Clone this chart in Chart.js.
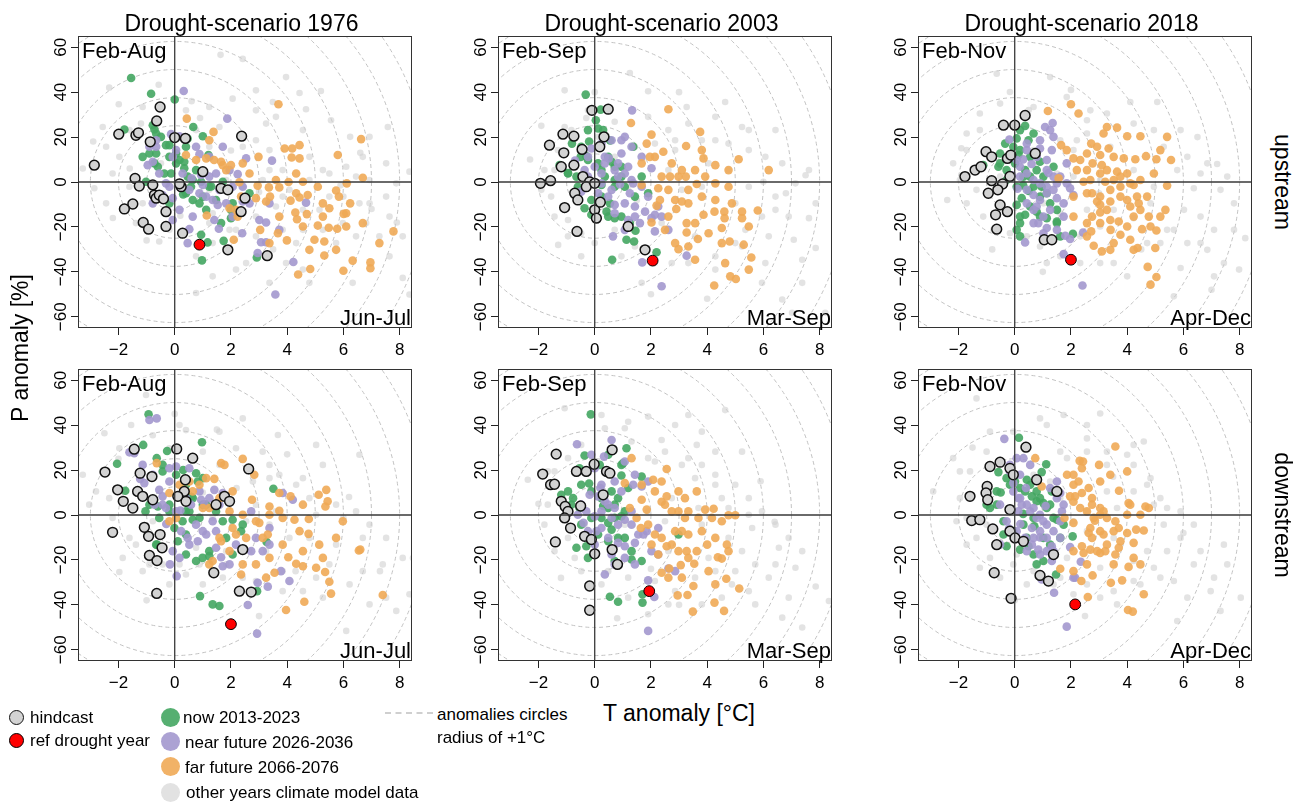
<!DOCTYPE html>
<html>
<head>
<meta charset="utf-8">
<script src="https://cdn.jsdelivr.net/npm/chart.js@4.4.1/dist/chart.umd.min.js"></script>
<style>
  html,body{margin:0;padding:0;background:#fff;}
  #root{position:relative;width:1298px;height:803px;overflow:hidden;background:#fff;font-family:"Liberation Sans",Arial,Helvetica,sans-serif;color:#000;}
  .lbl{position:absolute;white-space:nowrap;line-height:1;}
  .dot{position:absolute;border-radius:50%;box-sizing:border-box;}
</style>
</head>
<body>
<div id="root"></div>
<script>
// ---------------- DATA ----------------
const xTicks = [-2, 0, 2, 4, 6, 8];
const yTicks = [-60, -40, -20, 0, 20, 40, 60];
const scenarioTitles = ['Drought-scenario 1976', 'Drought-scenario 2003', 'Drought-scenario 2018'];
const periodTop = ['Feb-Aug', 'Feb-Sep', 'Feb-Nov'];
const periodBottom = ['Jun-Jul', 'Mar-Sep', 'Apr-Dec'];
const rowLabels = ['upstream', 'downstream'];
const legendLabels = ['hindcast', 'ref drought year', 'now 2013-2023', 'near future 2026-2036', 'far future 2066-2076', 'other years climate model data'];
const circleRadii = [1, 2, 3, 4, 5, 6, 7, 8, 9, 10, 11, 12];

// ---- upstream 1976 ----
const up1976_hind = [[-2.86,7.5],[-0.52,33.4],[-0.64,27.2],[-1.99,21.3],[-1.38,20.8],[-1.29,21.9],[-0.87,17.9],[-1.41,1.6],[-1.26,-1.8],[-0.78,-1.3],[-0.72,-5.8],[-0.66,-7.2],[-1.49,-9.8],[-1.79,-12.0],[-0.31,-13.2],[-1.12,-18.0],[-0.93,-21.0],[-0.31,-19.8],[0.28,-22.8],[0.0,19.8],[0.38,19.4],[0.23,-2.1],[1.0,4.6],[1.65,-2.8],[1.89,-3.5],[2.38,20.4],[2.36,-13.2],[2.5,-7.2],[1.89,-30.2],[3.29,-32.8],[-0.55,-5.8],[-0.4,-7.5],[0.17,-0.8]];
const up1976_ref = [[0.88,-27.9]];
const up1976_now = [[-1.55,46.3],[-0.84,39.3],[0,36.7],[-1.79,23.4],[-0.78,25.3],[-0.72,23.4],[-0.66,21.6],[0.66,24.5],[1.0,20.4],[-1.14,11.2],[-0.6,6.8],[-0.19,11.2],[0.05,8.3],[0.17,9.8],[0.4,15.7],[0.46,2.4],[0.64,0.9],[0.58,-2.1],[1.0,-6.5],[0.88,-9.5],[1.47,-8.0],[2.06,-9.5],[2.0,-16.1],[2.66,-5.0],[0.94,-23.5],[1.17,-26.9],[1.74,-26.2],[0.97,-34.9],[2.92,-33.6],[-0.49,20.1],[-0.31,16.4],[-0.9,12.7],[-0.13,3.8],[0.34,6.1],[1.2,12.0],[0.3,-5.5],[1.3,-2.0],[-0.19,16.4],[0.05,12.7],[0.34,9.0],[0.76,5.3],[0.94,0.1],[1.23,-2.1],[0.4,-5.0],[0.64,-8.0],[-0.19,-9.5],[-0.72,8.3],[-0.37,3.8],[-1.02,0.1],[1.12,-12.4],[1.65,-18.3],[-0.66,12.7],[0.46,19.4],[1.71,0.1],[2.0,-12.4]];
const up1976_near = [[0.32,40.5],[1.87,28.2],[-0.13,21.3],[0.17,20.4],[-0.9,15.7],[-0.66,15.7],[-0.78,9.0],[-0.96,7.5],[0.05,14.2],[-0.07,11.2],[0.88,12.4],[1.71,15.7],[2.54,10.5],[3.46,9.5],[2.24,3.5],[1.23,2.4],[1.47,3.8],[1.0,-1.3],[0.88,-5.0],[-0.19,-2.1],[-0.43,-5.8],[-0.07,-7.2],[1.35,-8.0],[1.53,-10.2],[1.83,-9.5],[2.42,-8.7],[1.41,-16.9],[1.57,-20.8],[-0.07,-16.9],[0.52,-21.0],[0.46,-27.2],[2.4,-22.8],[3.01,-16.9],[3.25,-18.0],[3.07,-26.8],[3.25,-26.8],[2.95,-31.6],[3.72,-21.3],[4.22,-35.6],[3.58,-50.1],[4.67,-9.2],[0.6,1.6],[0.94,3.1],[-0.55,3.8],[0.28,3.8],[0.52,-3.5],[1.12,-6.5],[1.59,-3.5],[2.06,-2.1],[1.95,5.3],[1.23,11.2],[0.76,15.7],[-0.66,18.6],[0.17,-12.4],[0.64,-15.4],[2.06,-15.4],[2.66,-9.5],[3.37,-9.5],[-0.31,-0.6],[-0.78,-9.5],[2.42,-2.1]];
const up1976_far = [[3.69,34.6],[0.43,28.2],[1.38,22.3],[1.23,18.6],[0.4,12.0],[0.76,9.8],[1.12,10.5],[1.71,7.5],[2.0,7.5],[2.42,8.3],[2.98,11.2],[3.91,14.9],[4.18,14.9],[4.44,16.4],[4.16,10.9],[4.44,10.5],[5.8,12.0],[6.63,19.1],[6.69,1.9],[6.12,-0.6],[4.32,3.8],[4.05,0],[2.3,-0.1],[2.95,-1.6],[3.35,-2.4],[3.72,-2.4],[3.39,-6.5],[3.25,-8.7],[2.36,-6.5],[4.32,-5.0],[4.44,-6.9],[4.12,-8.3],[4.73,-5.8],[5.74,-3.8],[5.84,-6.5],[5.5,-11.7],[4.29,-13.6],[4.7,-14.3],[4.35,-16.6],[6.01,-14.2],[6.1,-13.9],[5.09,-19.4],[5.48,-20.4],[5.78,-20.8],[6.1,-19.8],[7.78,-22.0],[3.04,-21.3],[3.67,-22.8],[3.99,-26.0],[4.97,-25.7],[5.32,-26.5],[5.32,-32.7],[6.33,-35.0],[6.96,-35.8],[6.96,-38.4],[6.0,-39.5],[4.82,-38.7],[4.39,-41.2],[2.1,-25.7],[1.14,-14.9],[1.95,-11.7],[2.18,-12.4],[1.4,9.8],[1.65,9.0],[2.66,3.8],[2.89,-7.2],[3.6,0.9],[4.56,0.1],[5.09,-2.1],[5.27,-9.5],[3.72,-15.4],[4.56,-19.8],[5.27,-15.4],[6.24,-9.5],[6.69,-18.3],[7.28,-27.2],[3.37,-27.2],[1.83,5.3],[2.24,-15.4],[5.74,-30.2],[4.79,-30.2]];
const up1976_other = [[1.63,56.6],[2.42,54.8],[-2.33,42],[-0.57,43.3],[2.06,37.1],[4.44,39.6],[4.67,32.4],[3.49,35.6],[-1.99,34.6],[-2.56,24.5],[-1.2,26],[3.25,26],[5.56,27.5],[7.58,24.5],[8.35,4.6],[-3.27,6],[-2.86,-2.8],[-2.44,15.7],[-1.97,11.2],[1.23,15.7],[2.89,18.6],[3.37,5.3],[3.84,5.3],[4.79,0.9],[5.27,5.3],[6.1,6.8],[6.93,0.9],[7.52,-6.5],[6.57,-9.5],[5.15,-12.4],[3.6,-10.9],[2.89,-15.4],[2.18,-21.3],[1.35,-27.2],[0.76,-33.1],[1.35,-42],[0.76,-49.4],[2.54,-36.1],[3.96,-36.1],[4.79,-44.9],[6.33,-44.9],[8.11,-42.7],[8.35,-50.1],[7.28,-24.2],[7.64,-33.1],[-0.55,-26.5],[-1.38,-18.3],[-2.44,-9.5],[-0.49,8.3],[0.52,-2.1],[1.23,-3.5],[1.83,0.9],[2.42,-2.1],[3.13,0.9],[4.08,-3.5],[4.56,-21.3],[4.32,-27.2],[5.74,-27.2],[5.98,-18.3],[6.81,-18.3],[5.5,-6.5],[1.35,-13.9],[3.96,46.7],[2.89,31.9],[5.2,40.5],[0.9,28.5],[-1.6,6.0],[0.2,-15.0],[2.0,14.0],[3.0,-4.5],[5.9,-1.5],[7.0,-12.0],[3.5,-30.0],[-2.2,-16.0],[-1.0,-26.0],[0.6,36.0],[-2.9,18.0],[6.6,13.0],[7.9,-18.0],[0.76,23.1],[1.59,24.5],[2.42,15.7],[3.37,14.2],[4.79,11.2],[5.5,3.8],[6.45,2.4],[6.69,11.2],[7.52,8.3],[3.84,-6.5],[4.56,-12.4],[6.0,-6.5],[6.93,-9.5],[7.64,-15.4],[8.11,-24.2],[6.45,-24.2],[5.27,-21.3],[3.84,-21.3],[2.89,-24.2],[1.95,-21.3],[1.23,-18.3],[-0.19,-21.3],[-1.14,-9.5],[-1.61,-2.1],[-2.21,3.8],[-1.61,23.1],[-1.14,33.4],[0.4,31.9],[1.23,33.4],[2.89,40.8],[3.6,29.0],[4.56,23.1],[6.24,20.1],[6.93,20.1],[7.88,-0.6],[4.56,-39.0],[3.37,-44.9],[2.18,-39.0]];

// ---- upstream 2003 ----
const up2003_hind = [[-0.1,31.9],[0.48,32.4],[0.33,20.1],[-1.13,21.3],[-0.74,20.4],[-1.61,16.4],[-1.1,13.0],[-1.19,6.8],[-0.74,7.5],[-1.93,-0.6],[-1.57,0.6],[-0.42,2.4],[-0.18,0.1],[-0.3,-2.1],[0,-0.6],[-0.71,-5.0],[-0.6,-8.0],[-1.07,-11.4],[0,-12.4],[0.06,-16.1],[-0.63,-22.0],[1.19,-19.8],[1.79,-30.2],[0.18,15.7],[-0.45,14.5],[0.2,-9.0]];
const up2003_ref = [[2.06,-35.0]];
const up2003_now = [[-0.32,38.9],[0.21,32.2],[0.04,27.5],[0.12,23.8],[-0.81,17.1],[-0.5,11.2],[-0.3,11.5],[-1.25,7.5],[-0.65,2.4],[0.24,5.3],[0.48,11.2],[0.71,6.8],[0.95,2.4],[1.37,15.7],[1.67,2.4],[1.9,-5.0],[-0.36,-11.7],[-0.12,-14.6],[0.42,-13.2],[0.54,-9.5],[0.71,-16.1],[0.95,-15.4],[1.25,-18.3],[1.45,-21.7],[1.13,-25.7],[1.4,-26.5],[0.62,-34.6],[2.2,-31.3],[0.24,-1.3],[0.71,-2.1],[-0.95,4.0],[0.55,18.5],[-0.2,18.0],[-0.48,15.7],[-0.24,9.8],[0.12,8.3],[0.6,9.0],[0.36,2.4],[0.71,0.9],[1.07,-2.1],[0.24,-6.5],[-0.12,-8.0],[-0.6,-2.1],[-0.95,3.8],[0.48,-15.4],[1.43,-6.5],[-0.24,23.1],[0.3,23.1],[0.95,6.8]];
const up2003_near = [[1.33,31.9],[1.07,20.1],[1.31,15.7],[0.95,12.7],[-0.12,14.9],[0.24,17.1],[-0.36,5.3],[0,6.8],[0.36,8.3],[0.71,5.3],[0.83,2.4],[1.07,3.8],[1.37,-0.6],[1.25,-5.0],[1.67,11.2],[0.12,-5.0],[0.48,-6.5],[0.71,-10.2],[-0.48,-4.3],[1.07,-9.5],[1.43,-10.9],[1.79,-13.2],[2.14,-14.6],[1.61,-18.3],[2.02,-16.1],[0.65,-24.2],[1.19,-16.9],[2.14,-22.0],[1.69,-35.8],[2.38,-46.4],[3.27,-32.8],[2.02,6.1],[0.24,3.8],[0.5,10.5],[-0.7,9.5],[0.9,-1.0],[-0.24,2.4],[0.24,-0.6],[0.6,-3.5],[0.83,8.3],[1.19,6.8],[1.31,0.9],[1.67,-2.1],[1.9,-6.5],[2.26,-10.9],[0.71,-13.9],[1.43,-15.4],[1.07,-21.3],[0.36,11.2],[-0.24,11.2],[0.6,18.6],[0.95,18.6],[2.38,-15.4],[2.62,-21.3]];
const up2003_far = [[2.62,32.4],[1.29,26.3],[2.02,21.1],[1.85,17.1],[2.44,13.5],[1.96,11.2],[1.67,8.3],[3.25,16.0],[3.75,22.3],[3.81,14.2],[3.87,10.5],[4.29,7.5],[4.76,5.3],[5.12,10.1],[6.19,5.3],[2.38,2.4],[2.68,2.4],[2.98,2.4],[3.24,2.4],[3.63,-0.9],[1.67,-1.3],[2.26,-2.8],[3.33,-3.5],[2.62,-3.5],[2.86,-8.0],[3.1,-8.7],[3.33,-9.5],[2.32,-8.0],[2.62,-15.4],[2.02,-18.0],[3.27,-18.3],[3.57,-18.3],[3.87,-14.6],[4.26,-13.2],[4.61,-13.2],[4.62,-16.1],[4.52,-20.5],[5.24,-16.1],[5.8,-12.7],[3.27,-22.5],[3.67,-25.4],[4.8,-26.5],[5.3,-27.9],[2.98,-29.9],[3.57,-34.6],[5.57,-33.6],[4.82,-42.0],[5.02,-43.2],[4.25,-46.1],[2.9,-12.0],[2.2,-10.5],[2.14,11.2],[2.74,8.3],[3.1,5.3],[3.57,5.3],[3.93,2.4],[4.29,-0.6],[4.76,-2.1],[3.81,-6.5],[4.29,-8.0],[4.88,-9.5],[5.24,-13.2],[5.48,-19.8],[4.05,-22.8],[4.52,-27.2],[2.5,-21.3],[2.86,-27.2],[3.33,-28.7],[4.64,-36.1],[5.48,-39.0]];
const up2003_other = [[-1.07,40.8],[1.25,48.5],[1.9,40.4],[4.64,35.6],[5.24,24.5],[3.33,26],[0.71,26.8],[-1.31,14.2],[-1.79,5.3],[4.29,18.6],[6.07,11.2],[6.0,0.1],[5.48,-2.1],[5.0,-9.5],[5.95,-15.4],[6.43,-12.4],[7.62,-16.1],[7.86,-29.4],[7.08,-25.7],[6.07,-36.1],[5.95,-44.9],[6.67,-52.3],[7.02,-58.2],[4.29,-39],[3.57,-24.2],[2.74,-36.1],[1.67,-44.9],[-0.48,-33.1],[-0.48,-22.8],[-0.95,-16.9],[-1.55,-6.5],[0.71,-21.3],[2.38,-18.3],[3.1,-3.5],[3.81,-2.1],[4.29,-0.6],[2.86,18.6],[2.62,5.3],[2.14,11.2],[4.76,5.3],[4.05,8.3],[3.27,33.4],[7.38,-34.6],[8.2,-58.2],[5.0,-27.2],[1.43,-28.7],[0.12,20.1],[-0.83,23.1],[0.48,-12.4],[1.19,-2.1],[5.36,-21.3],[-1.9,25.0],[-2.3,10.0],[0.0,40.0],[3.0,40.0],[6.8,-5.0],[7.5,3.0],[-1.3,-28.0],[2.0,-50.0],[4.0,-52.0],[-0.3,28.5],[1.5,-8.0],[0.71,11.2],[1.43,15.7],[2.14,17.1],[2.86,14.2],[3.81,18.6],[4.76,17.1],[5.48,14.2],[6.67,8.3],[7.14,-0.6],[7.62,5.3],[6.43,-6.5],[6.9,-15.4],[6.19,-24.2],[5.24,-28.7],[4.29,-33.1],[3.33,-36.1],[2.14,-36.1],[0.95,-33.1],[0,-27.2],[-0.95,-24.2],[-1.43,-15.4],[-1.9,-3.5],[-1.43,5.3],[-1.07,24.5],[-0.24,31.9],[1.9,29.0],[2.62,23.1],[4.29,29.0],[5.48,23.1],[6.43,23.1],[7.86,-9.5],[7.38,-44.9]];

// ---- upstream 2018 ----
const up2018_hind = [[0.37,29.6],[0,25.3],[-0.4,25.3],[-1.02,13.5],[-0.82,11.2],[-1.41,5.3],[-1.2,6.8],[-1.77,2.4],[-0.82,0.6],[-0.26,10.5],[-0.14,12.0],[-0.43,-0.9],[-0.94,-5.0],[-0.52,-10.2],[-0.26,-13.2],[-0.68,-14.6],[-0.64,-21.0],[0.73,12.7],[1.05,-25.7],[1.32,-25.7],[-0.17,2.5],[-0.6,-3.5]];
const up2018_ref = [[2.0,-34.6]];
const up2018_now = [[0.37,25.0],[0.19,23.1],[0.67,21.6],[0.49,18.6],[0.07,19.4],[-0.34,17.1],[-0.52,12.7],[-0.58,6.8],[-1.12,7.5],[0.13,12.0],[0.01,8.3],[0.37,5.3],[0.55,2.4],[0.78,5.3],[0.96,-2.1],[1.14,-5.0],[0.25,-7.2],[0.07,-10.2],[0.37,-14.6],[0.07,-21.3],[0.19,-24.2],[0.78,-13.2],[1.14,-16.1],[1.5,-17.6],[1.32,-25.7],[2.07,-23.1],[1.38,6.8],[-0.29,0.9],[0.3,-1.5],[0.9,9.0],[0.5,-4.0],[-0.05,15.7],[0.19,14.2],[0.55,11.2],[0.31,2.4],[0.07,-2.1],[0.67,-2.1],[0.9,-6.5],[1.26,-9.5],[0.55,-10.9],[0.19,-15.4],[0.9,-15.4],[1.5,-12.4],[-0.52,8.3],[-0.29,5.3],[1.02,2.4],[1.5,-18.3],[1.62,-24.2],[0.19,-18.3]];
const up2018_near = [[1.08,24.5],[1.35,26.3],[-0.19,18.9],[1.38,20.1],[1.32,14.2],[0.43,17.1],[0.9,14.9],[1.14,9.8],[0.19,6.8],[0.43,3.8],[0.67,0.9],[0.9,-0.6],[1.14,-2.1],[1.38,-3.5],[1.62,2.4],[1.97,-2.8],[0.67,-5.8],[0.9,-8.0],[1.5,-7.2],[1.74,-9.5],[0.43,-9.5],[0.67,-12.4],[1.02,-15.4],[0.84,-18.3],[1.14,-20.5],[0.37,-26.9],[1.8,-23.9],[1.97,-25.4],[2.43,-22.5],[1.74,-32.1],[2.41,-46.1],[2.09,-5.8],[0.3,10.0],[0.6,8.0],[1.2,4.0],[0.1,-3.0],[-0.1,3.0],[0.43,14.2],[0.78,11.2],[1.14,5.3],[1.38,2.4],[1.5,-0.6],[1.85,-0.6],[1.14,-5.0],[0.43,-3.5],[0.19,2.4],[0.78,-10.9],[1.26,-12.4],[1.74,-15.4],[0.67,-18.3],[1.02,-22.8],[1.5,-21.3],[0.07,9.8],[0.9,18.6],[1.26,23.1],[1.85,8.3]];
const up2018_far = [[2.0,34.6],[2.27,30.5],[1.18,31.6],[1.65,16.4],[2.09,10.5],[2.33,9.8],[2.57,12.7],[2.72,17.1],[2.93,15.7],[3.16,21.6],[3.64,24.2],[3.04,12.0],[3.34,14.9],[4.0,20.4],[4.47,20.4],[2.77,8.3],[3.1,7.5],[3.52,11.2],[3.88,10.5],[4.29,10.1],[4.67,11.5],[5.04,10.1],[5.56,9.8],[3.64,4.6],[3.76,2.4],[1.56,1.6],[2.45,0.1],[2.69,0.9],[3.22,0.1],[3.52,0.9],[3.76,-2.1],[4.23,-1.3],[5.42,-1.6],[2.09,-6.5],[2.75,-5.0],[2.93,-8.7],[3.04,-10.2],[4.0,-8.0],[4.35,-6.5],[4.41,-9.5],[3.4,-8.7],[4.11,-10.9],[4.47,-12.4],[5.36,-12.4],[2.75,-15.4],[3.4,-16.9],[3.7,-17.6],[4.77,-15.4],[3.04,-13.6],[2.72,-22.0],[3.41,-21.3],[3.76,-23.5],[4.53,-21.0],[4.83,-19.8],[5.04,-21.6],[4.11,-25.7],[4.37,-29.4],[5.0,-29.4],[2.81,-28.4],[3.1,-30.9],[3.4,-30.2],[4.73,-37.8],[5.04,-42.3],[4.83,-45.7],[1.85,14.2],[2.21,5.3],[2.57,5.3],[3.04,3.8],[3.28,5.3],[4.0,3.8],[4.11,-0.6],[4.47,0.9],[4.95,3.8],[3.4,-3.5],[2.57,-5.0],[3.04,-6.5],[3.76,-6.5],[4.71,-6.5],[5.18,-15.4],[4.23,-15.4],[3.28,-12.4],[2.57,-18.3],[3.04,-18.3],[4.0,-19.8],[3.52,-27.2],[4.23,-30.2],[2.57,-24.2],[2.09,-15.4],[5.18,14.2],[5.42,20.1],[3.28,24.5]];
const up2018_other = [[-0.64,48.2],[-0.17,40.1],[1.26,46.7],[4.11,35.6],[5.07,35.6],[2.69,31.9],[-1.24,30.5],[-1.71,21.6],[-2.19,8.3],[2.21,18.6],[2.57,21.6],[3.4,15.7],[5.3,15.7],[5.78,5.3],[6.61,3.8],[7.32,-3.5],[6.02,-12.4],[5.66,-21.3],[6.14,-27.2],[6.85,-30.2],[7.98,-39],[7.44,-36.1],[5.9,-38.3],[5.66,-50.9],[4.0,-42],[3.04,-36.1],[2.33,-24.2],[1.62,-33.1],[0.9,-28.7],[-0.17,-22.8],[-1.12,-15.4],[-1.36,-3.5],[-0.52,2.4],[1.5,3.8],[2.09,2.4],[3.04,0.9],[3.76,-2.1],[4.23,5.3],[4.95,-2.1],[4.83,-9.5],[3.52,-12.4],[2.57,-12.4],[1.62,-13.9],[1.02,-9.5],[0.19,-2.1],[3.04,-19.8],[4.23,-16.1],[5.18,-27.2],[7.8,-9.5],[6.37,-2.8],[-1.9,15.0],[0.5,32.0],[2.0,41.0],[6.5,20.0],[7.2,8.0],[8.2,-25.0],[-2.4,-8.0],[-0.8,-30.0],[1.0,-40.0],[7.0,-48.0],[4.5,-30.0],[3.0,-5.0],[0.67,14.2],[1.62,18.6],[2.09,14.2],[2.57,27.5],[3.28,30.5],[4.23,26.0],[4.95,23.1],[5.9,23.1],[6.14,11.2],[6.85,8.3],[7.56,2.4],[7.8,-21.3],[7.09,-21.3],[6.61,-15.4],[5.42,-21.3],[4.71,-27.2],[3.52,-36.1],[2.33,-36.1],[1.14,-36.1],[0.43,-24.2],[-0.76,-21.3],[-1.71,-9.5],[-1.95,0.9],[-1.71,14.2],[-1.24,23.1],[-0.52,34.9],[0.67,33.4],[1.85,37.8],[6.61,-27.2],[7.09,-42.0]];

// ---- downstream 1976 ----
const dn1976_hind = [[-1.44,29.3],[0.07,29.4],[0.64,25.3],[2.63,20.5],[-2.48,19.1],[-1.23,18.6],[-0.81,17.1],[-2.03,11.2],[-1.32,10.5],[-1.14,8.3],[-1.83,6.1],[-1.49,3.1],[-0.78,6.8],[0.38,15.7],[0.34,10.5],[0.4,6.1],[0.11,8.3],[1.47,4.6],[1.77,8.3],[1.95,6.1],[-2.21,-7.7],[-1.08,-5.5],[-0.93,-9.5],[-0.52,-8.7],[-0.45,-14.6],[-0.9,-18.0],[-0.63,-20.3],[2.42,-15.4],[1.39,-25.7],[-0.64,-34.9],[2.3,-33.9],[2.72,-34.3]];
const dn1976_ref = [[2.0,-48.6]];
const dn1976_now = [[-0.93,44.8],[-1.12,31.2],[0.97,32.4],[-0.27,28.5],[-0.64,25.3],[-0.43,22.3],[-2.05,22.8],[0.76,18.6],[1.0,16.4],[0.82,14.9],[-1.76,10.8],[-1.04,1.6],[-0.6,3.8],[-0.19,1.6],[-0.01,-5.8],[0.4,1.6],[0.64,-2.1],[0.88,-1.3],[1.12,4.6],[2.06,-2.1],[2.36,-7.2],[0.11,-11.7],[0.4,-17.6],[0.99,-19.1],[1.23,-18.3],[2.06,-17.6],[3.27,-12.0],[3.51,11.7],[0.9,-36.1],[1.35,-39.8],[1.59,-40.5],[2.93,-33.9],[-0.63,-13.2],[0.3,20.0],[0.6,8.0],[-0.43,19.4],[0.05,17.9],[0.4,13.5],[0.64,7.5],[1.0,4.6],[1.47,1.6],[1.71,-2.8],[0.28,-2.8],[0.52,1.6],[-0.19,4.6],[-0.55,-1.3],[-0.9,4.6],[0.4,-8.7],[1.23,-16.1],[0.76,-20.5],[1.83,-10.2],[2.42,-4.3],[-0.66,-13.2]];
const dn1976_near = [[-0.9,42.3],[-0.64,43.0],[-1.61,27.9],[-1.44,27.5],[-0.19,20.8],[0.05,21.6],[-1.23,16.1],[-1.08,14.2],[-0.55,11.2],[-0.43,8.3],[-0.72,4.6],[-0.31,3.1],[0.52,20.8],[0.58,4.6],[0.94,6.8],[1.06,4.6],[1.41,11.2],[1.71,9.8],[2.72,1.6],[3.84,9.8],[4.2,6.8],[0.23,-7.2],[0.46,-10.2],[0.82,-11.7],[1.12,-8.7],[1.35,-2.8],[1.47,-7.2],[-0.07,-16.1],[-0.17,-22.0],[0.07,-27.2],[1.65,-18.8],[1.71,-22.8],[2.72,-16.1],[3.13,-16.1],[3.37,-5.8],[2.95,-30.2],[3.31,-31.9],[4.08,-29.4],[3.78,-25.0],[2.6,-40.1],[2.93,-52.8],[0.2,2.0],[-0.3,-4.0],[-0.43,4.6],[0.05,1.6],[0.4,7.5],[0.88,10.5],[1.23,7.5],[1.59,4.6],[0.76,-4.3],[1.0,-7.2],[0.52,-13.2],[1.47,-14.6],[2.18,-13.2],[2.89,-10.2],[3.37,-13.2],[0.17,-19.1],[1.95,-22.0],[-0.78,17.9],[-1.14,22.3],[-0.19,14.9]];
const dn1976_far = [[1.65,23.1],[1.77,22.3],[2.42,25.0],[2.83,17.9],[-0.64,23.1],[-0.19,9.8],[0.11,8.3],[0.34,11.2],[0.64,10.5],[1.12,16.4],[1.41,16.1],[1.0,3.1],[1.23,3.1],[2.06,10.5],[2.75,6.8],[3.37,3.8],[3.72,9.8],[3.72,1.9],[4.12,8.3],[5.12,9.0],[5.39,11.2],[5.44,6.1],[5.36,3.8],[4.26,-2.1],[4.77,-1.8],[3.01,-3.5],[3.31,-8.7],[3.13,-10.2],[2.06,-5.8],[2.18,-8.7],[2.54,-10.2],[1.59,-10.2],[1.65,-11.7],[-0.19,-2.8],[0.05,-1.3],[1.35,-20.5],[1.23,-22.0],[4.76,-8.4],[5.14,-13.2],[6.55,-15.8],[6.6,-15.4],[4.04,-18.8],[4.32,-21.7],[4.56,-22.8],[5.03,-23.5],[5.35,-25.4],[5.5,-29.7],[3.55,-25.7],[3.25,-27.9],[5.56,-35.0],[4.61,-38.6],[3.96,-42.3],[7.4,-35.6],[2.36,-26.5],[0.17,13.5],[0.52,14.9],[0.88,13.5],[1.59,7.5],[1.95,1.6],[2.42,0.1],[2.89,-2.8],[3.37,0.1],[3.84,-1.3],[4.44,-7.2],[3.84,-13.2],[4.56,-16.1],[5.27,-19.1],[3.37,-19.1],[2.89,-22.0],[1.95,-16.1],[2.42,-22.0],[5.74,-10.2],[5.98,-2.8],[4.56,4.6]];
const dn1976_other = [[-1.02,53.4],[0.4,37.8],[-1.55,40.1],[-2.5,36.4],[2.42,43],[3.67,35.6],[5.03,31.2],[2.18,29.7],[3.37,22.3],[3.72,17.9],[4.56,16.4],[5.27,22.3],[6.57,26.8],[-3.27,17.9],[-2.8,10.5],[-2.21,-1.3],[-1.61,-10.2],[-1.85,-19.1],[-1.14,-25],[-0.19,-30.9],[0.4,-26.5],[0.88,-22],[1.83,-22],[2.42,-27.9],[3.84,-33.9],[4.56,-33.9],[5.27,-36.8],[6.1,-51.6],[6.93,-39.8],[7.52,-36.8],[7.88,-42.7],[8.35,-35.3],[5.5,-22],[5.74,-13.2],[4.79,-10.2],[4.08,-10.2],[3.37,-4.3],[2.54,-2.8],[2.89,4.6],[3.6,1.6],[5.03,0.1],[6.0,-1.3],[6.69,-10.2],[3.25,-16.1],[2.66,-16.1],[1.83,-16.1],[0.76,-14.6],[1.35,-1.3],[0.76,-2.8],[-0.78,-2.8],[-0.43,-22],[-1.97,-25.4],[8.47,-19.1],[0.0,45.0],[1.5,38.0],[-2.0,25.0],[4.0,27.0],[6.2,8.0],[7.3,-25.0],[-1.0,-38.0],[3.0,-45.0],[1.0,10.0],[2.2,12.0],[4.3,-25.0],[-0.19,29.7],[1.0,28.2],[1.59,22.3],[2.78,14.9],[3.37,16.4],[4.32,13.5],[4.79,7.5],[5.74,4.6],[6.45,1.6],[6.93,-4.3],[7.52,-10.2],[8.11,-19.1],[7.4,-22.0],[6.69,-25.0],[6.22,-30.9],[5.03,-27.9],[3.84,-25.0],[2.89,-29.4],[1.71,-27.9],[1.0,-30.9],[0.17,-22.0],[-0.9,-22.0],[-1.38,-13.2],[-2.33,7.5],[-3.04,4.6],[-1.97,29.7],[-0.78,35.5],[0.17,40.1],[1.59,37.1],[3.13,28.2]];

// ---- downstream 2003 ----
const dn2003_hind = [[0.62,29.0],[-1.37,27.1],[-1.85,18.2],[-1.57,13.5],[-1.43,13.7],[-0.65,19.4],[-0.3,19.4],[-0.02,22.6],[0.42,19.4],[0.54,18.6],[-1.19,6.1],[-1.05,3.8],[-0.95,1.6],[-1.07,-1.3],[-0.86,-5.8],[0.3,9.0],[-1.4,-12.0],[-0.36,-9.5],[-0.12,-10.9],[0,-17.3],[0.62,-15.4],[0.81,-22.0],[-0.18,-31.6],[-0.18,-42.4],[-0.5,4.0]];
const dn2003_ref = [[1.94,-33.9]];
const dn2003_now = [[-0.14,44.8],[1.13,29.7],[-0.36,26.5],[1.01,23.1],[-0.54,20.8],[-0.3,19.4],[0.18,22.3],[1.67,17.1],[0.95,17.6],[1.19,12.0],[-0.95,10.5],[-0.77,7.5],[-0.54,3.1],[0.6,10.5],[0.83,7.5],[0.24,-1.3],[0.48,-3.5],[0.71,-1.3],[0.95,-0.6],[-0.65,-14.6],[-0.3,-13.9],[0.6,-6.5],[0.83,-10.2],[1.31,-19.8],[1.67,-20.5],[2.98,-8.7],[0.54,-36.4],[0.83,-38.6],[1.7,-35.3],[1.7,-39.0],[-0.2,14.0],[0.3,4.0],[-0.48,13.5],[-0.12,10.5],[0.24,7.5],[0.48,3.1],[0.71,4.6],[1.07,1.6],[-0.12,-1.3],[-0.48,-4.3],[0.12,-8.7],[0.48,-11.7],[1.07,-10.2],[1.31,-16.1],[0.71,-20.5],[-0.24,-19.1],[-0.83,4.6],[-1.19,9.0],[0.95,22.3],[0.48,26.8]];
const dn2003_near = [[0.6,33.4],[-0.63,31.5],[0.33,26.0],[1.07,23.8],[0,20.8],[1.37,13.5],[1.67,12.7],[1.9,14.9],[-0.18,9.0],[0.12,8.3],[0.36,6.1],[-0.6,0.1],[-0.3,1.6],[0,-0.6],[0.48,4.6],[0.71,3.1],[1.07,-2.1],[1.31,1.6],[0.24,-5.8],[0.06,-7.2],[0.83,-12.4],[1.07,-13.9],[1.43,-12.4],[0.6,-17.6],[0.71,-22.0],[1.73,-8.7],[1.85,-7.2],[0.36,-26.5],[1.9,-29.1],[2.12,-36.5],[2.62,-23.8],[2.86,-25.0],[1.9,-51.6],[2.26,-17.6],[0.2,12.0],[-0.4,-3.5],[0.24,13.5],[0.71,14.9],[0.95,10.5],[-0.48,4.6],[0.24,1.6],[0.6,-1.3],[0.83,-4.3],[1.31,-4.3],[1.55,-8.7],[0.48,-10.2],[0,-13.2],[1.07,-19.1],[1.43,-22.0],[2.02,-16.1],[-0.24,-7.2],[-0.12,26.8],[1.43,17.9],[2.26,-5.8]];
const dn2003_far = [[1.31,25.3],[2.56,20.5],[2.08,15.7],[2.38,14.9],[1.07,14.2],[3.63,10.5],[2.98,10.5],[2.56,8.3],[2.5,4.6],[1.67,6.8],[1.85,2.4],[1.25,3.1],[1.49,-1.3],[2.98,1.6],[3.21,-1.3],[3.33,1.6],[3.93,2.4],[4.23,2.8],[4.76,-0.1],[5.0,-0.1],[1.64,-5.8],[2.14,-8.7],[2.38,-10.2],[2.56,-13.9],[3.1,-7.2],[3.33,-8.7],[2.98,-16.1],[3.27,-16.1],[3.63,-16.1],[4.0,-13.2],[4.7,-13.2],[2.26,-17.6],[2.65,-23.8],[3.06,-22.3],[2.38,-25.7],[2.62,-27.9],[3.54,-21.7],[4.38,-18.8],[4.52,-19.4],[3.51,-31.6],[2.95,-35.8],[3.3,-35.6],[4.68,-28.4],[5.14,-32.7],[4.26,-39.0],[4.6,-42.7],[3.49,-43.0],[1.67,13.5],[2.14,10.5],[2.38,5.9],[2.74,1.6],[3.69,-1.3],[4.17,-1.3],[4.52,-2.8],[3.81,-7.2],[4.29,-10.2],[4.76,-16.1],[2.86,-7.2],[2.74,-13.2],[2.02,-13.2],[3.33,-19.1],[4.05,-25.0],[3.1,-27.9],[4.29,-30.9],[1.9,-4.3],[3.21,7.5]];
const dn2003_other = [[-1.07,47.5],[1.9,43.8],[3.33,44.5],[4.64,46.7],[0.36,38.6],[1.07,38.6],[2.38,33.4],[3.63,31.2],[4.29,28.2],[-0.95,25.3],[-2.38,15.7],[-1.67,19.4],[2.14,23.8],[3.1,22.3],[3.57,16.4],[4.52,7.5],[5.48,0.1],[5.6,-5.8],[6.55,-14.6],[7.14,-23.5],[8.33,-38.3],[6.9,-36.8],[5.71,-39.8],[4.88,-30.9],[4.29,-25],[3.57,-27.9],[2.86,-33.9],[1.9,-44.2],[1.19,-36.8],[0.24,-30.9],[-0.48,-25],[-0.71,-19.1],[-1.43,-16.1],[-1.79,-4.3],[-0.36,-4.3],[1.07,-4.3],[2.5,-2.8],[3.81,-4.3],[4.76,-10.2],[5.24,-16.1],[6.19,-27.9],[6.67,-45.7],[7.38,-50.1],[4.05,-19.1],[2.62,-16.1],[1.9,1.6],[2.74,7.5],[3.69,3.1],[4.76,3.1],[0.24,44.5],[1.31,32.7],[4.29,13.5],[7.86,-31.8],[-2.0,5.0],[-1.2,-28.0],[0.8,-46.0],[5.9,15.0],[6.4,-3.0],[3.0,-40.0],[2.0,-24.0],[0.95,22.3],[1.9,25.3],[2.5,28.2],[3.33,25.3],[3.81,22.3],[4.29,17.9],[5.0,13.5],[5.48,7.5],[5.95,1.6],[6.43,-4.3],[6.9,-10.2],[7.38,-16.1],[6.43,-22.0],[5.71,-22.0],[5.0,-25.0],[5.48,-33.9],[4.52,-36.8],[3.81,-39.8],[2.62,-39.8],[2.14,-29.4],[1.19,-27.9],[0.48,-25.0],[-0.95,-10.2],[-1.67,4.6],[-1.43,19.4],[-0.48,31.2],[1.19,41.5],[2.86,40.1],[3.81,37.1],[5.24,28.2]];

// ---- downstream 2018 ----
const dn2018_hind = [[0.4,30.2],[-1.59,8.3],[-0.88,21.6],[-0.52,23.5],[-0.98,12.7],[-1.02,9.8],[-0.96,6.8],[-0.17,20.8],[-0.05,17.9],[0.78,15.7],[1.5,10.5],[-1.53,-2.5],[-1.24,-2.1],[-0.78,-6.2],[-0.64,-13.2],[-0.17,-7.2],[0.01,-10.2],[0.31,-11.7],[1.38,-17.6],[-0.73,-25.7],[0.9,-26.9],[1.2,-29.4],[-0.13,-37.1],[-0.17,2.4]];
const dn2018_ref = [[2.15,-39.8]];
const dn2018_now = [[0.15,34.4],[1.12,22.6],[-0.58,19.1],[-0.29,16.4],[0.01,14.9],[0.43,15.7],[0.96,19.1],[-0.88,3.1],[-0.64,4.6],[0.37,10.5],[0.61,8.3],[0.78,6.1],[1.02,5.3],[1.26,4.6],[1.32,10.5],[-0.4,-2.8],[-0.29,-13.9],[0.19,-15.4],[0.49,-13.9],[0.78,-22.0],[1.02,-20.5],[1.47,-26.5],[2.06,-9.5],[1.74,-4.3],[1.5,-2.1],[0.3,0.5],[0.7,-5.0],[-0.5,10.0],[-0.17,13.5],[0.19,12.0],[0.55,13.5],[0.78,10.5],[0.9,7.5],[1.14,3.1],[1.38,-1.3],[0.67,-1.3],[0.31,-4.3],[-0.05,-7.2],[-0.4,-8.7],[0.43,-10.2],[1.02,-10.2],[1.26,-13.2],[0.67,-17.6],[-0.64,10.5],[-1.0,4.6],[1.62,-10.2]];
const dn2018_near = [[-0.37,33.9],[0.07,25.3],[0.31,25.3],[-0.17,22.3],[0.19,17.9],[-0.05,14.2],[0.13,7.5],[0.25,4.6],[0.13,1.6],[0.55,1.6],[0.78,-1.3],[1.02,-2.8],[1.5,14.9],[1.62,9.8],[1.5,7.5],[1.68,1.6],[1.62,-2.8],[0.61,-5.8],[0.9,-7.2],[0.37,-10.2],[0.61,-13.2],[0.84,-15.4],[1.14,-16.1],[1.32,-13.9],[-0.52,-13.2],[0.96,-28.7],[1.4,-34.6],[2.09,-27.9],[2.15,-27.9],[1.97,-14.3],[2.35,-20.8],[1.85,-49.7],[1.32,-20.5],[0.4,12.0],[1.1,4.0],[0.2,-4.0],[-0.2,-6.0],[0.9,-10.0],[-0.05,10.5],[0.19,7.5],[0.43,4.6],[0.67,3.1],[0.9,0.1],[1.14,-4.3],[1.38,-7.2],[1.62,-10.2],[1.14,-10.2],[0.67,-10.2],[0.9,-17.6],[1.38,-16.1],[0.43,-16.1],[0.07,-7.2],[-0.29,-2.8],[-0.52,4.6],[-0.17,19.4],[0.55,22.3],[1.26,12.0],[1.74,4.6]];
const dn2018_far = [[3.58,30.5],[2.31,24.1],[2.43,23.8],[3.0,22.3],[0.73,25.3],[1.86,17.9],[2.09,17.9],[2.39,20.8],[2.27,14.9],[2.63,12.0],[0.96,12.7],[3.71,10.8],[1.97,8.3],[2.15,8.3],[2.39,9.8],[2.75,7.5],[2.75,4.6],[3.04,3.1],[3.16,1.6],[4.05,5.3],[4.11,4.6],[4.65,3.8],[4.77,3.1],[1.77,-1.3],[2.09,-3.5],[2.81,-1.3],[2.85,-2.5],[3.58,-2.8],[3.7,-5.8],[4.0,-8.0],[4.32,-6.5],[4.59,-6.9],[2.63,-8.0],[2.75,-10.2],[3.16,-8.7],[2.39,-13.9],[2.45,-16.9],[2.69,-15.4],[3.04,-16.9],[3.22,-16.1],[3.58,-17.6],[3.7,-14.6],[4.23,-12.4],[4.05,-23.1],[4.47,-22.0],[3.42,-30.2],[3.82,-29.1],[2.77,-26.9],[2.37,-29.4],[1.62,-23.9],[2.6,-36.5],[4.59,-35.3],[4.03,-42.3],[4.2,-43.0],[2.09,5.9],[2.33,3.1],[2.57,1.6],[3.04,0.1],[3.28,-1.3],[2.69,-5.8],[3.04,-7.2],[3.52,-7.2],[3.76,-11.7],[3.28,-13.2],[2.93,-16.1],[3.52,-22.0],[4.23,-19.1],[2.09,-16.1],[2.57,-22.0],[2.09,-25.0],[4.0,0.1],[4.47,0.1],[2.09,13.5],[3.04,14.9],[3.4,17.9],[4.0,19.4]];
const dn2018_other = [[-1.36,51.9],[1.74,44.5],[3.04,45.2],[1.14,40.1],[-0.88,37.1],[-1.95,19.4],[-2.9,10.5],[-2.19,25.3],[1.62,28.2],[2.57,34.1],[4.23,31.2],[4.59,32.7],[3.28,22.3],[4.0,26.8],[4.83,16.4],[5.42,3.1],[5.3,-4.3],[4.71,-16.1],[4.95,-23.5],[5.66,-29.4],[6.14,-36.8],[6.97,-33.9],[7.56,-22],[7.44,-13.2],[6.61,-16.1],[5.78,-47.2],[4.23,-29.4],[3.64,-39.8],[3.04,-36.8],[2.09,-35.3],[1.38,-30.9],[0.43,-30.9],[-0.52,-27.9],[-1.24,-23.5],[-1.71,-13.2],[-2.07,-2.8],[-1.0,-4.3],[0.67,-4.3],[2.09,-2.8],[2.57,-7.2],[3.52,-10.2],[4.23,-20.5],[3.04,-23.5],[1.86,-19.1],[0.9,-10.2],[0.07,-17.6],[3.28,10.5],[2.57,1.6],[4.23,10.5],[4.95,4.6],[3.64,3.1],[1.62,7.5],[1.26,14.9],[8.04,-36.8],[7.32,-42.7],[0.3,30.0],[-1.5,30.0],[6.0,-8.0],[2.5,-45.0],[0.0,-38.0],[3.5,17.0],[0.67,17.9],[1.14,22.3],[1.86,25.3],[2.57,28.2],[3.28,28.2],[4.23,22.3],[4.71,13.5],[5.18,7.5],[5.9,1.6],[6.37,-4.3],[5.9,-10.2],[5.42,-16.1],[6.37,-22.0],[7.09,-27.9],[5.18,-27.9],[4.47,-30.9],[3.52,-33.9],[2.57,-30.9],[1.62,-27.9],[0.67,-25.0],[-0.05,-22.0],[-0.88,-19.1],[-1.36,-10.2],[-1.71,-1.3],[-1.95,7.5],[-1.59,19.4],[-1.0,28.2],[-0.05,37.1],[0.9,43.0],[2.57,40.1]];

// ---------------- STYLE / LAYOUT ----------------
const FONT = '"Liberation Sans", Arial, Helvetica, sans-serif';
const COL = {
  hindFill: '#d3d3d3', hindEdge: '#111111',
  ref: '#ff0000',
  now: 'rgba(68,166,98,0.9)',
  near: 'rgba(163,152,206,0.9)',
  far: 'rgba(240,170,86,0.9)',
  other: 'rgba(208,208,208,0.6)'
};
const X_MIN = -3.44, X_MAX = 8.44, Y_MIN = -65, Y_MAX = 65;
const PW = 334, PH = 292;
const panelPos = [[78,36],[498,36],[918,36],[78,369],[498,369],[918,369]];
const panels = [
  {hind: up1976_hind, ref: up1976_ref, now: up1976_now, near: up1976_near, far: up1976_far, other: up1976_other},
  {hind: up2003_hind, ref: up2003_ref, now: up2003_now, near: up2003_near, far: up2003_far, other: up2003_other},
  {hind: up2018_hind, ref: up2018_ref, now: up2018_now, near: up2018_near, far: up2018_far, other: up2018_other},
  {hind: dn1976_hind, ref: dn1976_ref, now: dn1976_now, near: dn1976_near, far: dn1976_far, other: dn1976_other},
  {hind: dn2003_hind, ref: dn2003_ref, now: dn2003_now, near: dn2003_near, far: dn2003_far, other: dn2003_other},
  {hind: dn2018_hind, ref: dn2018_ref, now: dn2018_now, near: dn2018_near, far: dn2018_far, other: dn2018_other}
];

const root = document.getElementById('root');
const fmt = v => (v < 0 ? '\u2212' + Math.abs(v) : String(v));
const toXY = arr => arr.map(p => ({x: p[0], y: p[1]}));

function addLabel(text, cx, cy, size, rot) {
  const d = document.createElement('div');
  d.className = 'lbl';
  d.textContent = text;
  d.style.fontSize = size + 'px';
  d.style.left = cx + 'px';
  d.style.top = cy + 'px';
  d.style.transform = 'translate(-50%,-50%)' + (rot ? ' rotate(' + rot + 'deg)' : '');
  root.appendChild(d);
}
function addLeftLabel(text, x, cy, size) {
  const d = document.createElement('div');
  d.className = 'lbl';
  d.textContent = text;
  d.style.fontSize = size + 'px';
  d.style.left = x + 'px';
  d.style.top = cy + 'px';
  d.style.transform = 'translateY(-50%)';
  root.appendChild(d);
}
function addDot(cx, cy, r, fill, border) {
  const d = document.createElement('div');
  d.className = 'dot';
  d.style.left = (cx - r) + 'px';
  d.style.top = (cy - r) + 'px';
  d.style.width = (2 * r) + 'px';
  d.style.height = (2 * r) + 'px';
  d.style.background = fill;
  if (border) d.style.border = border;
  root.appendChild(d);
}

function panelPlugin(idx) {
  const col = idx % 3;
  return {
    id: 'panelDeco' + idx,
    beforeDatasetsDraw(chart) {
      const {ctx, chartArea: a, scales: {x, y}} = chart;
      ctx.save();
      ctx.beginPath();
      ctx.rect(a.left, a.top, a.right - a.left, a.bottom - a.top);
      ctx.clip();
      const cx = x.getPixelForValue(0), cy = y.getPixelForValue(0);
      const unit = x.getPixelForValue(1) - cx;
      ctx.strokeStyle = '#c2c2c2';
      ctx.lineWidth = 1;
      ctx.setLineDash([4, 3]);
      circleRadii.forEach(k => {
        ctx.beginPath();
        ctx.arc(cx, cy, k * unit, 0, Math.PI * 2);
        ctx.stroke();
      });
      ctx.restore();
    },
    afterDatasetsDraw(chart) {
      const {ctx, chartArea: a, scales: {x, y}} = chart;
      const cx = x.getPixelForValue(0), cy = y.getPixelForValue(0);
      ctx.save();
      ctx.strokeStyle = '#3a3a3a';
      ctx.lineWidth = 1.3;
      ctx.beginPath();
      ctx.moveTo(a.left, cy); ctx.lineTo(a.right, cy);
      ctx.moveTo(cx, a.top); ctx.lineTo(cx, a.bottom);
      ctx.stroke();
      ctx.restore();
    },
    afterDraw(chart) {
      const {ctx, chartArea: a, scales: {y}} = chart;
      ctx.save();
      ctx.strokeStyle = '#333';
      ctx.lineWidth = 1;
      ctx.strokeRect(a.left + 0.5, a.top + 0.5, a.right - a.left - 1, a.bottom - a.top - 1);
      ctx.fillStyle = '#000';
      ctx.font = '17px ' + FONT;
      ctx.textAlign = 'center';
      ctx.textBaseline = 'middle';
      yTicks.forEach(v => {
        const py = y.getPixelForValue(v);
        ctx.save();
        ctx.translate(a.left - 17, py);
        ctx.rotate(-Math.PI / 2);
        ctx.fillText(fmt(v), 0, 0);
        ctx.restore();
      });
      ctx.font = '22px ' + FONT;
      ctx.textBaseline = 'alphabetic';
      ctx.textAlign = 'left';
      ctx.fillText(periodTop[col], a.left + 4, a.top + 22);
      ctx.textAlign = 'right';
      ctx.fillText(periodBottom[col], a.right - 1, a.bottom - 3);
      ctx.restore();
    }
  };
}

function makePanel(idx) {
  const [L, T] = panelPos[idx];
  const s = panels[idx];
  const c = document.createElement('canvas');
  c.width = PW + 70; c.height = PH + 46;
  c.style.position = 'absolute';
  c.style.left = (L - 60) + 'px';
  c.style.top = (T - 10) + 'px';
  c.style.width = c.width + 'px';
  c.style.height = c.height + 'px';
  root.appendChild(c);
  const pt = (data, fill, r, bw, bc) => ({
    data: toXY(data), backgroundColor: fill, borderColor: bc || fill,
    borderWidth: bw, pointRadius: r, pointHoverRadius: r, showLine: false
  });
  const gridOpts = {drawOnChartArea: false, drawTicks: true, tickLength: 7, color: '#222', lineWidth: 1};
  new Chart(c, {
    type: 'scatter',
    data: {datasets: [
      pt(s.ref, COL.ref, 5.4, 1, '#000'),
      pt(s.hind, COL.hindFill, 4.9, 1.5, COL.hindEdge),
      pt(s.far, COL.far, 4.3, 0),
      pt(s.near, COL.near, 4.3, 0),
      pt(s.now, COL.now, 4.3, 0),
      pt(s.other, COL.other, 3.3, 0)
    ]},
    options: {
      responsive: false, animation: false, events: [],
      devicePixelRatio: 1,
      layout: {padding: {top: 10, right: 10, left: 0, bottom: 0}},
      plugins: {legend: {display: false}, tooltip: {enabled: false}},
      scales: {
        x: {
          type: 'linear', min: X_MIN, max: X_MAX,
          afterBuildTicks: sc => { sc.ticks = xTicks.map(v => ({value: v})); },
          afterFit: sc => { sc.height = 36; },
          ticks: {color: '#000', font: {family: FONT, size: 17}, padding: 5, autoSkip: false, maxRotation: 0, minRotation: 0, callback: v => fmt(v)},
          grid: gridOpts, border: {display: false}
        },
        y: {
          type: 'linear', min: Y_MIN, max: Y_MAX,
          afterBuildTicks: sc => { sc.ticks = yTicks.map(v => ({value: v})); },
          afterFit: sc => { sc.width = 60; },
          ticks: {display: false},
          grid: gridOpts, border: {display: false}
        }
      }
    },
    plugins: [panelPlugin(idx)]
  });
}

for (let i = 0; i < 6; i++) makePanel(i);

// ---------------- TEXT / LEGEND ----------------
const titleCx = [241.5, 661.5, 1081.5];
scenarioTitles.forEach((t, i) => addLabel(t, titleCx[i], 23, 23));
addLabel(rowLabels[0], 1282, 182, 23, 90);
addLabel(rowLabels[1], 1282, 515, 23, 90);
addLabel('P anomaly [%]', 20, 348, 23, -90);
addLabel('T anomaly [\u00B0C]', 679, 713, 23);

// legend
addDot(16, 717, 7.5, COL.hindFill, '1.6px solid #111');
addLeftLabel(legendLabels[0], 30, 717, 17);
addDot(16, 740, 7.5, COL.ref, '1.3px solid #000');
addLeftLabel(legendLabels[1], 30, 740, 17);
addDot(170, 717, 9.5, COL.now);
addLeftLabel(legendLabels[2], 183, 717, 17);
addDot(170, 741, 9.5, COL.near);
addLeftLabel(legendLabels[3], 185, 742, 17);
addDot(170, 766, 9.5, COL.far);
addLeftLabel(legendLabels[4], 185, 767, 17);
addDot(170, 792, 9.5, 'rgba(226,226,226,1)');
addLeftLabel(legendLabels[5], 186, 792, 17);
const dash = document.createElement('div');
dash.style.cssText = 'position:absolute;left:385px;top:712px;width:48px;height:0;border-top:2px dashed #cfcfcf;';
root.appendChild(dash);
addLeftLabel('anomalies circles', 437, 714, 17);
addLeftLabel('radius of +1\u00B0C', 437, 737, 17);
</script>
</body>
</html>
